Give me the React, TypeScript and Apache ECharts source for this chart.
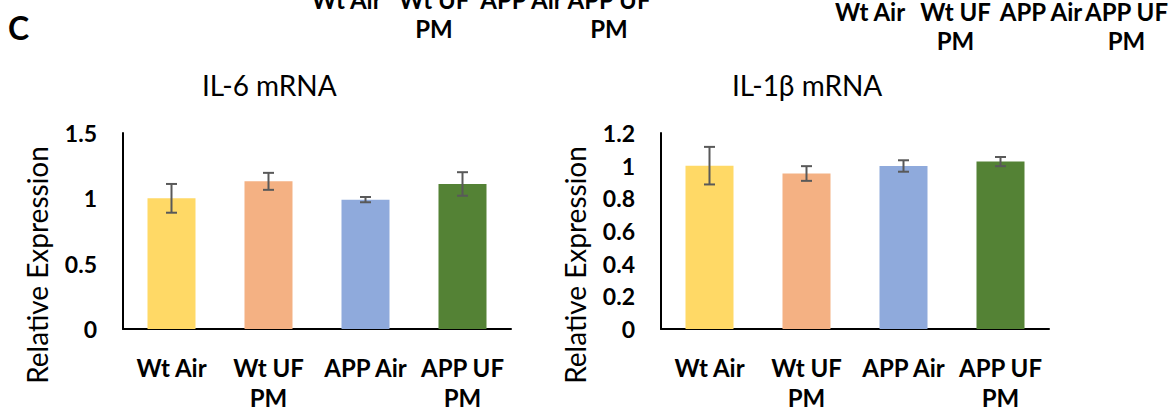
import React, { useEffect, useRef } from "react";
import * as echarts from "echarts";

const categories = ["Wt Air", "Wt UF\nPM", "APP Air", "APP UF\nPM"];
const barColors = ["#FFD966", "#F4B183", "#8FAADC", "#548235"];

const il6Values = [1.0, 1.13, 0.99, 1.11];
const il6Errors = [0.11, 0.065, 0.02, 0.09];
const il1bValues = [1.0, 0.952, 0.998, 1.025];
const il1bErrors = [0.115, 0.045, 0.035, 0.028];

const il6Ticks = { min: 0, max: 1.5, interval: 0.5 };
const il1bTicks = { min: 0, max: 1.2, interval: 0.2 };

const FONT = "Lato";

function errorRender(params: any, api: any) {
  const x = api.value(0);
  const lo = api.coord([x, api.value(1)]);
  const hi = api.coord([x, api.value(2)]);
  const hw = 5.5;
  const style = { stroke: "#595959", lineWidth: 2 };
  return {
    type: "group",
    children: [
      { type: "line", shape: { x1: hi[0], y1: hi[1], x2: lo[0], y2: lo[1] }, style },
      { type: "line", shape: { x1: hi[0] - hw, y1: hi[1], x2: hi[0] + hw, y2: hi[1] }, style },
      { type: "line", shape: { x1: lo[0] - hw, y1: lo[1], x2: lo[0] + hw, y2: lo[1] }, style },
    ],
  };
}

export default function App() {
  const ref = useRef<HTMLDivElement>(null);
  useEffect(() => {
    if (!ref.current) return;
    const chart = echarts.init(ref.current, undefined, { renderer: "svg" });

    const grids = [
      { left: 123, top: 133, width: 388, height: 196 },
      { left: 661, top: 133, width: 388, height: 196 },
    ];
    const xAxis = [0, 1].map((i) => ({
      type: "category",
      gridIndex: i,
      data: categories,
      axisLine: { show: true, lineStyle: { color: "#000", width: 2 } },
      axisTick: { show: false },
      axisLabel: {
        color: "#000",
        fontFamily: FONT,
        fontWeight: "bold",
        fontSize: 24,
        lineHeight: 30,
        margin: 23,
        interval: 0,
      },
    }));
    const yAxis = [il6Ticks, il1bTicks].map((t, i) => ({
      type: "value",
      gridIndex: i,
      min: t.min,
      max: t.max,
      interval: t.interval,
      name: "Relative Expression",
      nameLocation: "middle",
      nameRotate: 90,
      nameGap: 72,
      nameTextStyle: { color: "#000", fontFamily: FONT, fontSize: 28, padding: [0, 68, 0, 0] },
      axisLine: { show: true, lineStyle: { color: "#000", width: 2 } },
      axisTick: { show: false },
      splitLine: { show: false },
      axisLabel: { color: "#000", fontFamily: FONT, fontWeight: "bold", fontSize: 23, margin: 26 },
    }));

    const barSeries = (vals: number[], idx: number) => ({
      type: "bar",
      xAxisIndex: idx,
      yAxisIndex: idx,
      barWidth: "49.5%",
      data: vals.map((v, i) => ({ value: v, itemStyle: { color: barColors[i] } })),
    });
    const errSeries = (vals: number[], errs: number[], idx: number) => ({
      type: "custom",
      xAxisIndex: idx,
      yAxisIndex: idx,
      renderItem: errorRender,
      encode: { x: 0, y: [1, 2] },
      data: vals.map((v, i) => [i, v - errs[i], v + errs[i]]),
      z: 5,
    });

    const topSets = [
      { centers: [346.5, 434, 521.5, 609], top: -15 },
      { centers: [870, 955.5, 1041, 1126.5], top: -3 },
    ];
    const topGraphics: any[] = [];
    topSets.forEach((s) => {
      categories.forEach((c, i) => {
        topGraphics.push({
          type: "text",
          x: s.centers[i],
          y: s.top,
          style: {
            text: c,
            font: `bold 24px ${FONT}`,
            fill: "#000",
            textAlign: "center",
            textVerticalAlign: "top",
            lineHeight: 29,
          },
        });
      });
    });

    chart.setOption({
      animation: false,
      backgroundColor: "#fff",
      title: [
        { text: "IL-6 mRNA", left: 197, top: 66, textStyle: { fontFamily: FONT, fontWeight: "normal", fontSize: 28, color: "#000" } },
        { text: "IL-1β mRNA", left: 727, top: 66, textStyle: { fontFamily: FONT, fontWeight: "normal", fontSize: 28, color: "#000" } },
      ],
      grid: grids,
      xAxis,
      yAxis,
      series: [
        barSeries(il6Values, 0),
        errSeries(il6Values, il6Errors, 0),
        barSeries(il1bValues, 1),
        errSeries(il1bValues, il1bErrors, 1),
      ],
      graphic: [
        {
          type: "text",
          x: 8,
          y: 27,
          style: { text: "C", font: `bold 32px ${FONT}`, fill: "#000", textVerticalAlign: "middle" },
        },
        ...topGraphics,
      ],
    });
    return () => chart.dispose();
  }, []);
  return <div ref={ref} style={{ position: "absolute", left: 0, top: 0, width: 1173, height: 413 }} />;
}
